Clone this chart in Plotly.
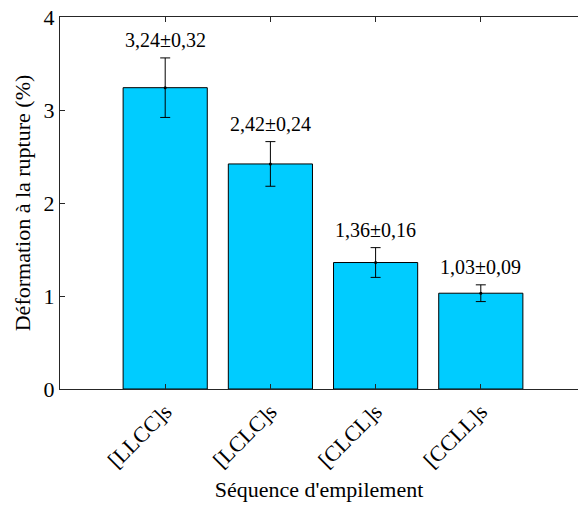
import plotly.graph_objects as go

categories = ["[LLCC]s", "[LCLC]s", "[CLCL]s", "[CCLL]s"]
values = [3.24, 2.42, 1.36, 1.03]
errors = [0.32, 0.24, 0.16, 0.09]
labels = ["3,24±0,32", "2,42±0,24", "1,36±0,16", "1,03±0,09"]
positions = [1, 2, 3, 4]

font = "Liberation Serif, Times New Roman, serif"
axcol = "#262626"

fig = go.Figure()
fig.add_trace(go.Bar(
    x=positions, y=values, width=0.8,
    marker=dict(color="#00CCFF", line=dict(color="black", width=1)),
    showlegend=False, hoverinfo="skip",
))
fig.add_trace(go.Scatter(
    x=positions, y=values, mode="markers",
    marker=dict(color="black", size=3),
    error_y=dict(type="data", array=errors, color="black", thickness=1, width=5),
    showlegend=False,
))
for p, v, e, t in zip(positions, values, errors, labels):
    fig.add_annotation(x=p, y=v + e, text=t, showarrow=False, yanchor="bottom",
                       yshift=5, font=dict(family=font, size=20, color="black"))

fig.update_layout(
    width=578, height=508,
    margin=dict(l=60, r=0, t=17, b=119, autoexpand=False),
    plot_bgcolor="white", paper_bgcolor="white",
    font=dict(family=font, color="black"),
    bargap=0.2,
)
fig.update_xaxes(
    range=[0, 4.924], tickvals=positions, ticktext=categories, tickangle=-45,
    showline=True, linecolor=axcol, linewidth=1, mirror="ticks",
    ticks="inside", ticklen=5, tickcolor=axcol, showgrid=False, zeroline=False,
    automargin=False, ticklabeloverflow="allow",
    tickfont=dict(family=font, size=22, color="black"),
    title=dict(text="Séquence d'empilement", font=dict(family=font, size=22, color="black"), standoff=9),
)
fig.update_yaxes(
    range=[0, 4], tickvals=[0, 1, 2, 3, 4],
    showline=True, linecolor=axcol, linewidth=1,
    ticks="inside", ticklen=5, tickcolor=axcol, showgrid=False, zeroline=False,
    automargin=False, ticklabeloverflow="allow",
    tickfont=dict(family=font, size=22, color="black"),
    title=dict(text="Déformation à la rupture (%)", font=dict(family=font, size=22, color="black"), standoff=6),
)
fig.write_html("out.html", config={"displayModeBar": False},
               post_script="document.body.style.margin='0';")
